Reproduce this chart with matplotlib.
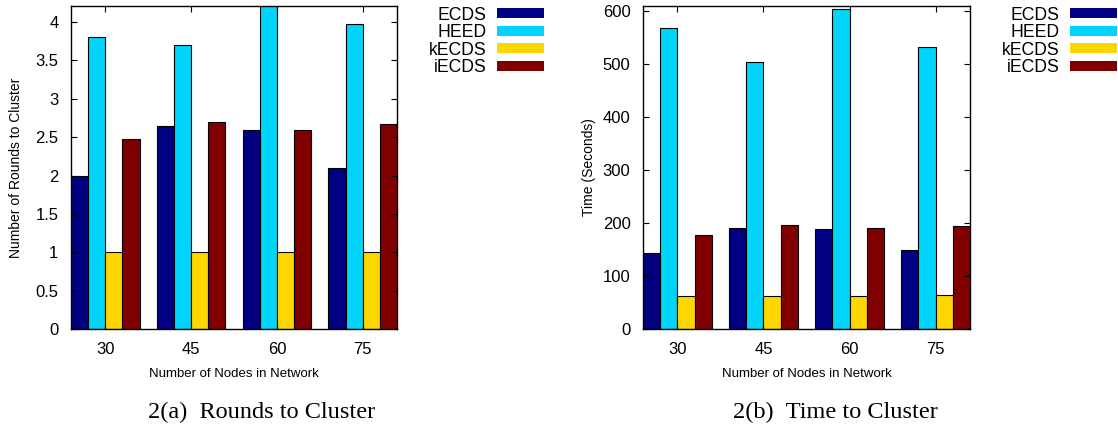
import matplotlib
matplotlib.use("Agg")
import matplotlib.pyplot as plt
from matplotlib.patches import Patch
import numpy as np

plt.rcParams['font.family'] = ['Liberation Sans', 'DejaVu Sans']

nodes = ["30", "45", "60", "75"]
series = ["ECDS", "HEED", "kECDS", "iECDS"]
colors = ["#000080", "#00d4fa", "#ffd700", "#800000"]

rounds_ecds = [2.0, 2.65, 2.6, 2.1]
rounds_heed = [3.8, 3.7, 4.3, 3.97]
rounds_kecds = [1.0, 1.0, 1.0, 1.0]
rounds_iecds = [2.47, 2.7, 2.6, 2.67]

time_ecds = [144, 191, 188, 150]
time_heed = [568, 504, 605, 532]
time_kecds = [63, 62, 62, 64]
time_iecds = [178, 197, 190, 195]

W, H = 1118, 428
fig = plt.figure(figsize=(W / 100, H / 100), dpi=100)


def axes_px(left, right, top, bottom):
    return fig.add_axes([left / W, (H - bottom) / H, (right - left) / W, (bottom - top) / H])


def draw(ax, data, ylim, yticks, yticklabels, ylabel, ylabelpad):
    x = np.arange(len(nodes))
    bw = 0.2
    for i, (vals, c) in enumerate(zip(data, colors)):
        ax.bar(x + (i - 1.5) * bw, vals, width=bw, color=c, edgecolor="black", linewidth=0.8)
    ax.set_xlim(-0.4, len(nodes) - 0.6)
    ax.set_ylim(*ylim)
    ax.set_xticks(x)
    ax.set_xticklabels(nodes)
    ax.set_yticks(yticks)
    ax.set_yticklabels(yticklabels)
    ax.tick_params(axis="both", direction="in", top=True, right=True, labelsize=12, length=4, width=0.8, pad=9)
    ax.tick_params(axis="x", pad=9)
    for s in ax.spines.values():
        s.set_linewidth(1.0)
    ax.set_xlabel("Number of Nodes in Network", fontsize=9.5, labelpad=8)
    ax.set_ylabel(ylabel, fontsize=10, labelpad=ylabelpad)
    handles = [Patch(facecolor=c, edgecolor="none") for c in colors]
    leg = ax.legend(handles, series, loc="upper left", bbox_to_anchor=(1.0, 1.01), frameon=False,
                    markerfirst=False, fontsize=12.7, handlelength=2.65, handleheight=0.5,
                    labelspacing=0.03, handletextpad=0.6, borderaxespad=0.0)
    return leg


ax1 = axes_px(71, 397, 6, 329)
leg1 = draw(ax1, [rounds_ecds, rounds_heed, rounds_kecds, rounds_iecds], (0, 4.21),
            [0, 0.5, 1, 1.5, 2, 2.5, 3, 3.5, 4], ["0", "0.5", "1", "1.5", "2", "2.5", "3", "3.5", "4"],
            "Number of Rounds to Cluster", 9)
leg1.set_bbox_to_anchor((1.0 + 25 / 326, 1.02), transform=ax1.transAxes)

ax2 = axes_px(643, 970, 6, 329)
leg2 = draw(ax2, [time_ecds, time_heed, time_kecds, time_iecds], (0, 610),
            [0, 100, 200, 300, 400, 500, 600], ["0", "100", "200", "300", "400", "500", "600"],
            "Time (Seconds)", 5)
leg2.set_bbox_to_anchor((1.0 + 25 / 327, 1.02), transform=ax2.transAxes)

fig.text(262 / W, 1 - 412 / H, "2(a)\u2002Rounds to Cluster", ha="center", va="center",
         fontsize=17.5, family=["Liberation Serif", "DejaVu Serif"])
fig.text(835 / W, 1 - 412 / H, "2(b)\u2002Time to Cluster", ha="center", va="center",
         fontsize=17.5, family=["Liberation Serif", "DejaVu Serif"])

fig.savefig("out.png", dpi=100)
